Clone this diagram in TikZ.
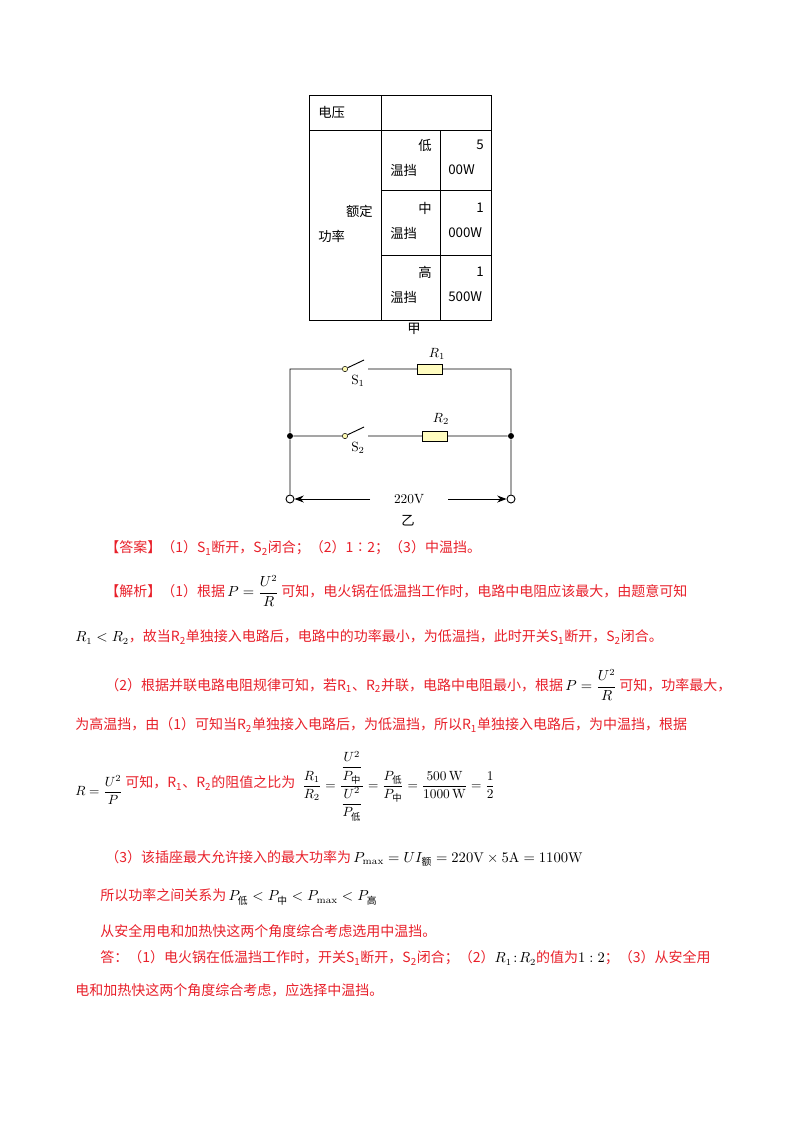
\documentclass[tikz,border=0pt]{standalone}
\usepackage{amsmath}
\usepackage{fontspec}
\newfontfamily\cjk{Noto Sans CJK SC}
\usetikzlibrary{arrows.meta}
\definecolor{ansred}{HTML}{E8202A}
\newcommand{\cn}[1]{\text{\cjk #1}}
\begin{document}
\begin{tikzpicture}[x=0.75pt,y=-0.75pt,
  tbl/.style={font=\cjk\fontsize{10}{12}\selectfont,inner sep=0pt},
  wire/.style={line width=0.7pt},
  res/.style={draw,fill=yellow!25,minimum width=19pt,minimum height=7.5pt,inner sep=0pt,line width=0.7pt},
  red/.style={font=\cjk\fontsize{10.5}{13}\selectfont,text=ansred,anchor=west,inner sep=0pt},
  blk/.style={anchor=west,inner sep=0pt},
  clab/.style={font=\fontsize{10}{12}\selectfont},
  dot/.style={circle,fill,inner sep=0pt,minimum size=4.5pt},
  term/.style={circle,draw,fill=white,inner sep=0pt,minimum size=6pt,line width=0.7pt}]
\useasboundingbox (0,0) rectangle (800,1132);
% table
\draw[line width=0.6pt] (309,95) rectangle (491,320);
\draw[line width=0.6pt] (309,130) -- (491,130) (381,95) -- (381,320) (440,130) -- (440,320)
  (381,190) -- (491,190) (381,255) -- (491,255);
\node[tbl,anchor=west] (v) at (318,112) {电压};
\node[tbl,anchor=east] (e1) at (373,211) {额定};
\node[tbl,anchor=west] (e2) at (318,236) {功率};
\node[tbl,anchor=east] (l1) at (432,145) {低};
\node[tbl,anchor=west] (l2) at (390,170) {温挡};
\node[tbl,anchor=east] (l3) at (484,145) {5};
\node[tbl,anchor=west] (l4) at (448,170) {00W};
\node[tbl,anchor=east] (m1) at (432,208) {中};
\node[tbl,anchor=west] (m2) at (390,233) {温挡};
\node[tbl,anchor=east] (m3) at (484,208) {1};
\node[tbl,anchor=west] (m4) at (448,233) {000W};
\node[tbl,anchor=east] (h1) at (432,272) {高};
\node[tbl,anchor=west] (h2) at (390,297) {温挡};
\node[tbl,anchor=east] (h3) at (484,272) {1};
\node[tbl,anchor=west] (h4) at (448,297) {500W};
\node[tbl] (jia) at (414,329) {甲};
% circuit
\coordinate (tl) at (290,369); \coordinate (tr) at (511,369);
\node[dot] (ml) at (290,436) {}; \node[dot] (mr) at (511,436) {};
\node[term] (bl) at (290,499) {}; \node[term] (br) at (511,499) {};
\node[res] (r1) at (430,369) {}; \node[res] (r2) at (435,436) {};
\node[circle,draw,fill=yellow!30,inner sep=0pt,minimum size=4pt] (s1) at (345,369) {};
\node[circle,draw,fill=yellow!30,inner sep=0pt,minimum size=4pt] (s2) at (345,436) {};
\coordinate (s1e) at (364,360); \coordinate (s1b) at (368,369);
\coordinate (s2e) at (364,427); \coordinate (s2b) at (368,436);
\draw[wire] (bl) -- (ml) -- (tl) -- (s1) (s1) -- (s1e) (s1b) -- (r1) -- (tr) -- (mr) -- (br);
\draw[wire] (ml) -- (s2) (s2) -- (s2e) (s2b) -- (r2) -- (mr);
\node[clab] at (437,354) {$R_1$};
\node[clab] at (441,419) {$R_2$};
\node[clab] at (358,381) {S$_1$};
\node[clab] at (358,448) {S$_2$};
\node[clab] (v220) at (409,499) {220V};
\coordinate (a1) at (370,499); \coordinate (a2) at (448,499);
\draw[wire,-{Stealth[length=7pt]}] (a1) -- (bl);
\draw[wire,-{Stealth[length=7pt]}] (a2) -- (br);
\node[tbl] (yi) at (408,521) {乙};
% text
\node[red] (t1) at (105,548) {【答案】（1）S\textsubscript{1}断开，S\textsubscript{2}闭合；（2）1∶2；（3）中温挡。};
\node[red] (t2) at (105,591) {【解析】（1）根据\,\textcolor{black}{$P=\dfrac{U^2}{R}$}\,可知，电火锅在低温挡工作时，电路中电阻应该最大，由题意可知};
\node[red] (t3) at (75,637) {\textcolor{black}{$R_1<R_2$}，故当\textit{R}\textsubscript{2}单独接入电路后，电路中的功率最小，为低温挡，此时开关S\textsubscript{1}断开，S\textsubscript{2}闭合。};
\node[red] (t4) at (105,685) {（2）根据并联电路电阻规律可知，若\textit{R}\textsubscript{1}、\textit{R}\textsubscript{2}并联，电路中电阻最小，根据\,\textcolor{black}{$P=\dfrac{U^2}{R}$}\,可知，功率最大，};
\node[red] (t5) at (75,725) {为高温挡，由（1）可知当\textit{R}\textsubscript{2}单独接入电路后，为低温挡，所以\textit{R}\textsubscript{1}单独接入电路后，为中温挡，根据};
\node[blk] (f1) at (75,790) {$R=\dfrac{U^2}{P}$};
\node[red] (t6) at (125,783) {可知，\textit{R}\textsubscript{1}、\textit{R}\textsubscript{2}的阻值之比为};
\node[blk] (f2) at (302,786) {$\dfrac{R_1}{R_2}=\dfrac{\dfrac{U^2}{P_{\cn{中}}}}{\dfrac{U^2}{P_{\cn{低}}}}=\dfrac{P_{\cn{低}}}{P_{\cn{中}}}=\dfrac{500\,\mathrm{W}}{1000\,\mathrm{W}}=\dfrac{1}{2}$};
\node[red] (t7) at (105,858) {（3）该插座最大允许接入的最大功率为\,\textcolor{black}{$P_{\max}=UI_{\cn{额}}=220\mathrm{V}\times5\mathrm{A}=1100\mathrm{W}$}};
\node[red] (t8) at (100,897) {所以功率之间关系为\,\textcolor{black}{$P_{\cn{低}}<P_{\cn{中}}<P_{\max}<P_{\cn{高}}$}};
\node[red] (t9) at (100,931) {从安全用电和加热快这两个角度综合考虑选用中温挡。};
\node[red] (t10) at (100,958) {答：（1）电火锅在低温挡工作时，开关S\textsubscript{1}断开，S\textsubscript{2}闭合；（2）\textcolor{black}{$R_1\!:\!R_2$}的值为\textcolor{black}{$1:2$}；（3）从安全用};
\node[red] (t11) at (75,990) {电和加热快这两个角度综合考虑，应选择中温挡。};
\end{tikzpicture}
\end{document}
